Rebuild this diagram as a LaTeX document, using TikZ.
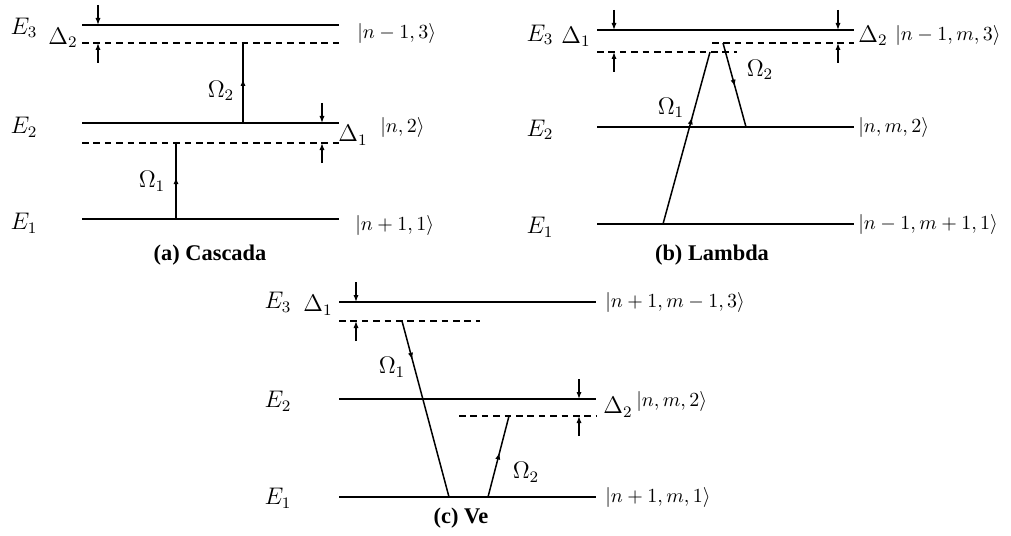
\documentclass[tikz,border=0pt]{standalone}
\usepackage{fontspec}
\usetikzlibrary{arrows.meta,decorations.markings}
\newfontfamily\capfont{Liberation Serif}
% detuning marks: name, x, upper line y, lower line y
\newcommand{\dmark}[4]{%
  \coordinate (#1t) at (#2,#3); \coordinate (#1b) at (#2,#4);
  \coordinate (#1tt) at ([yshift=10pt]#1t); \coordinate (#1bb) at ([yshift=-10pt]#1b);
  \draw[dm] (#1tt)--(#1t); \draw[dm] (#1bb)--(#1b);}

\begin{document}
\begin{tikzpicture}[x=0.5pt,y=-0.5pt,
    lv/.style={line width=0.75pt},
    vl/.style={lv,dash pattern=on 3.3pt off 2.4pt},
    dm/.style={-{Latex[length=3.5pt,width=2.6pt]},line width=0.65pt},
    tr/.style={lv,postaction={decorate},decoration={markings,
      mark=at position #1 with {\arrow{Latex[length=3.5pt,width=2.6pt]}}}},
    en/.style={font=\fontsize{11.5}{13}\selectfont},
    gr/.style={font=\fontsize{12}{14}\selectfont},
    ket/.style={anchor=west,inner sep=0,font=\fontsize{10.2}{12}\selectfont},
    capt/.style={font=\capfont\bfseries\fontsize{11.2}{13}\selectfont}]
  \useasboundingbox (0,0) rectangle (1011,535);
  % (a) cascada
  \coordinate (a1l) at (82,219); \coordinate (a1r) at (339,219);
  \coordinate (a2l) at (82,123); \coordinate (a2r) at (339,123);
  \coordinate (a3l) at (82,25);  \coordinate (a3r) at (339,25);
  \coordinate (a2dl) at (82,143); \coordinate (a2dr) at (339,143);
  \coordinate (a3dl) at (82,43);  \coordinate (a3dr) at (339,43);
  \draw[lv] (a1l)--(a1r) (a2l)--(a2r) (a3l)--(a3r);
  \draw[vl] (a2dl)--(a2dr) (a3dl)--(a3dr);
  \coordinate (ap1) at (176,219); \coordinate (ap1e) at (176,143);
  \coordinate (ap2) at (243,123); \coordinate (ap2e) at (243,43);
  \draw[tr=0.55] (ap1)--(ap1e); \draw[tr=0.55] (ap2)--(ap2e);
  \dmark{ad2}{98}{25}{43} \dmark{ad1}{322}{123}{143}
  \node[en] (aE3) at (24,28) {$E_3$};
  \node[en] (aE2) at (24,127) {$E_2$};
  \node[en] (aE1) at (24,223) {$E_1$};
  \node[gr] (aD2) at (63,38) {$\Delta_2$};
  \node[gr] (aD1) at (353,135) {$\Delta_1$};
  \node[ket] (ak3) at (357,34) {$|n-1,3\rangle$};
  \node[ket] (ak2) at (380,128) {$|n,2\rangle$};
  \node[ket] (ak1) at (355,225) {$|n+1,1\rangle$};
  \node[gr] (aO2) at (221,91) {$\Omega_2$};
  \node[gr] (aO1) at (152,181) {$\Omega_1$};
  \node[capt] (acap) at (210,255) {(a) Cascada};
  % (b) lambda
  \coordinate (b1l) at (597,224); \coordinate (b1r) at (854,224);
  \coordinate (b2l) at (597,127); \coordinate (b2r) at (854,127);
  \coordinate (b3l) at (597,30);  \coordinate (b3r) at (854,30);
  \coordinate (bdl) at (597,52);  \coordinate (bdm) at (737,52);
  \coordinate (bdn) at (712,43);  \coordinate (bdr) at (854,43);
  \draw[lv] (b1l)--(b1r) (b2l)--(b2r) (b3l)--(b3r);
  \draw[vl] (bdl)--(bdm) (bdn)--(bdr);
  \coordinate (bp1) at (663,224); \coordinate (bp1e) at (710,52);
  \coordinate (bp2) at (723,43);  \coordinate (bp2e) at (746,127);
  \draw[tr=0.62] (bp1)--(bp1e); \draw[tr=0.52] (bp2)--(bp2e);
  \dmark{bd1}{614}{30}{52} \dmark{bd2}{838}{30}{43}
  \node[en] (bE3) at (540,35) {$E_3$};
  \node[en] (bE2) at (540,130) {$E_2$};
  \node[en] (bE1) at (540,227) {$E_1$};
  \node[gr] (bD1) at (576,37) {$\Delta_1$};
  \node[gr] (bD2) at (873,36) {$\Delta_2$};
  \node[ket] (bk3) at (895,36) {$|n-1,m,3\rangle$};
  \node[ket] (bk2) at (858,128) {$|n,m,2\rangle$};
  \node[ket] (bk1) at (858,224) {$|n-1,m+1,1\rangle$};
  \node[gr] (bO1) at (671,108) {$\Omega_1$};
  \node[gr] (bO2) at (760,70) {$\Omega_2$};
  \node[capt] (bcap) at (712,255) {(b) Lambda};
  % (c) ve
  \coordinate (c1l) at (339,497); \coordinate (c1r) at (596,497);
  \coordinate (c2l) at (339,399); \coordinate (c2r) at (596,399);
  \coordinate (c3l) at (339,302); \coordinate (c3r) at (596,302);
  \coordinate (cdl) at (339,321); \coordinate (cdm) at (480,321);
  \coordinate (cdn) at (459,416); \coordinate (cdr) at (596,416);
  \draw[lv] (c1l)--(c1r) (c2l)--(c2r) (c3l)--(c3r);
  \draw[vl] (cdl)--(cdm) (cdn)--(cdr);
  \coordinate (cp1) at (402,321); \coordinate (cp1e) at (449,497);
  \coordinate (cp2) at (488,497); \coordinate (cp2e) at (509,416);
  \draw[tr=0.22] (cp1)--(cp1e); \draw[tr=0.55] (cp2)--(cp2e);
  \dmark{cd1}{356}{302}{321} \dmark{cd2}{579}{399}{416}
  \node[en] (cE3) at (278,302) {$E_3$};
  \node[en] (cE2) at (278,401) {$E_2$};
  \node[en] (cE1) at (278,498) {$E_1$};
  \node[gr] (cD1) at (318,305) {$\Delta_1$};
  \node[gr] (cD2) at (618,407) {$\Delta_2$};
  \node[ket] (ck3) at (605,302) {$|n+1,m-1,3\rangle$};
  \node[ket] (ck2) at (636,401) {$|n,m,2\rangle$};
  \node[ket] (ck1) at (605,497) {$|n+1,m,1\rangle$};
  \node[gr] (cO1) at (392,367) {$\Omega_1$};
  \node[gr] (cO2) at (526,472) {$\Omega_2$};
  \node[capt] (ccap) at (461,518) {(c) Ve};
\end{tikzpicture}
\end{document}
